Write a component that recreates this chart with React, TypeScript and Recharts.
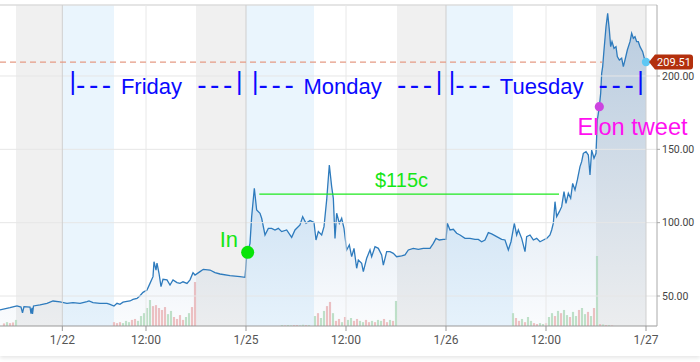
import React from 'react';
import {
  ComposedChart,
  Area,
  XAxis,
  YAxis,
  ReferenceArea,
  ReferenceLine,
  ReferenceDot,
} from 'recharts';

// hours from Monday 1/25 00:00 (weekend squeezed out, as on the source chart)
const tickTimes = [-22.04, -12, 0, 12, 24, 36, 48];
const tickLabels = ['1/22', '12:00', '1/25', '12:00', '1/26', '12:00', '1/27'];
const dayLines = [-22.04, 0, 24, 48];
const noonLines = [-12, 12, 36];
const priceTicks = [50, 100, 150, 200];

const greyBands = [[-27.6, -22.04], [-6.0, 0], [18.12, 24], [42.0, 48]];
const blueBands = [[-22.04, -15.84], [0, 8.16], [24, 32.04]];

const priceTimes = [
  -29.52, -28.32, -27.48, -27.0, -26.82, -26.64, -25.92, -25.8, -25.68, -25.62,
  -25.5, -24.72, -23.88, -23.16, -22.32, -21.48, -20.76, -19.92, -19.08, -18.84,
  -18.36, -17.52, -16.68, -16.32, -15.84, -15.48, -15.12, -14.76, -14.28, -13.92,
  -13.56, -13.08, -12.72, -12.36, -11.88, -11.52, -11.16, -11.04, -10.8, -10.68,
  -10.44, -10.2, -9.96, -9.48, -9.12, -8.76, -8.28, -7.92, -7.56, -7.08,
  -6.72, -6.36, -6.12, -5.52, -5.12, -4.32, -3.72, -3.12, -1.92, -0.72,
  -0.12, 0.08, 0.48, 0.68, 1.0, 1.28, 1.68, 1.88, 2.28, 2.68,
  3.08, 3.48, 3.88, 4.28, 4.88, 5.48, 5.88, 6.48, 6.8, 7.2,
  7.68, 8.16, 8.4, 8.68, 9.08, 9.36, 9.68, 10.0, 10.28, 10.48,
  10.68, 10.88, 11.2, 11.48, 11.76, 12.08, 12.4, 12.68, 12.96, 13.28,
  13.48, 13.88, 14.08, 14.48, 14.88, 15.08, 15.48, 15.88, 16.28, 16.48,
  16.88, 17.28, 17.68, 18.08, 18.68, 19.08, 19.48, 20.08, 20.68, 21.28,
  22.08, 22.48, 22.8, 23.2, 23.68, 24.0, 24.16, 24.48, 24.88, 25.28,
  25.68, 26.28, 26.88, 27.48, 27.88, 28.28, 28.68, 29.08, 29.48, 30.08,
  30.68, 31.08, 31.48, 31.8, 32.2, 32.48, 32.68, 33.08, 33.48, 33.68,
  34.08, 34.48, 34.88, 35.28, 35.68, 36.08, 36.48, 36.68, 36.88, 37.08,
  37.28, 37.6, 37.88, 38.16, 38.4, 38.68, 38.96, 39.2, 39.48, 39.76,
  40.08, 40.28, 40.48, 40.8, 41.08, 41.28, 41.48, 41.76, 42.0, 42.16,
  42.4, 42.56, 42.68, 42.8, 42.96, 43.2, 43.4, 43.6, 43.76, 43.92,
  44.16, 44.4, 44.56, 44.8, 45.08, 45.28, 45.48, 45.76, 46.08, 46.28,
  46.48, 46.68, 46.88, 47.08, 47.28, 47.6, 47.8, 48.0,
];

const prices = [
  40.5, 42.0, 43.2, 42.5, 38.6, 42.7, 42.5, 38.0, 42.0, 37.8,
  43.2, 43.9, 45.0, 46.6, 46.0, 45.0, 45.5, 45.0, 46.1, 46.6,
  45.5, 45.0, 45.0, 44.3, 43.2, 45.0, 44.3, 45.8, 46.3, 46.6,
  47.7, 48.3, 50.2, 52.5, 54.1, 58.6, 63.2, 73.4, 67.7, 72.5,
  65.5, 56.4, 61.4, 61.0, 57.5, 61.0, 59.1, 58.6, 59.7, 58.6,
  61.0, 65.9, 64.3, 66.6, 68.2, 67.7, 65.9, 65.0, 63.9, 63.2,
  62.7, 76.8, 85.9, 104.1, 123.5, 108.6, 106.4, 103.0, 91.6, 96.1,
  96.1, 95.0, 96.1, 93.9, 95.0, 90.0, 95.0, 98.4, 104.1, 99.6,
  101.4, 100.1, 88.2, 93.9, 91.6, 97.3, 115.5, 139.3, 124.6, 116.6,
  89.3, 106.4, 99.6, 103.0, 96.1, 81.4, 84.8, 76.8, 82.5, 68.9,
  74.5, 72.3, 66.6, 75.7, 81.4, 76.8, 83.6, 82.5, 78.0, 71.1,
  80.2, 80.2, 79.1, 76.8, 77.3, 78.0, 81.4, 82.5, 81.8, 82.5,
  82.5, 85.9, 89.3, 88.2, 88.6, 88.6, 99.6, 95.0, 95.5, 92.8,
  91.6, 89.3, 89.3, 88.6, 88.6, 87.0, 88.2, 93.2, 92.3, 90.5,
  88.6, 88.2, 81.4, 87.0, 99.6, 91.6, 95.0, 89.3, 80.2, 90.5,
  91.6, 88.2, 89.3, 87.0, 88.2, 89.3, 91.6, 95.0, 99.6, 114.3,
  104.1, 107.5, 110.9, 121.1, 113.2, 120.0, 116.6, 126.8, 122.3, 129.1,
  138.2, 141.6, 147.3, 148.4, 146.1, 132.5, 149.5, 143.9, 147.3, 170.0,
  179.1, 188.2, 201.8, 206.4, 217.7, 233.6, 242.7, 231.4, 220.0, 223.4,
  218.9, 220.0, 213.2, 210.9, 212.1, 206.4, 210.9, 217.7, 223.4, 229.1,
  225.7, 226.8, 223.4, 223.4, 220.0, 216.6, 212.1, 209.51,
];

// volume bars come in runs, one bar every 0.36h
const volStep = 0.36;
const volHalfWidth = 0.13;
const volRunStarts = [-29.4, -15.84, 4.32, 8.28, 32.04, 42.48];
const volRuns = [
  [0.9, 0.8, 1.2, 0.9, 1.1, 1.9],
  [1.2, 0.9, 1.2, 0.9, 1.6, 1.2, 1.9, 2.2, 1.6, 3.1, 4.0, 5.6, 8.1, 6.2, 6.5, 5.6, 5.0, 5.9, 3.7, 4.7, 2.8, 2.2, 3.4, 1.9, 2.8, 4.0, 5.9, 13.7],
  [0.3, 0.2, 0.3, 0.2, 0.3, 0.3, 0.2, 0.4, 0.3, 0.3],
  [3.1, 4.0, 2.5, 4.7, 6.2, 7.5, 4.0, 1.6, 2.2, 1.2, 2.8, 1.9, 2.5, 1.6, 2.2, 1.6, 1.2, 1.9, 1.2, 1.6, 1.2, 1.9, 1.6, 2.2, 1.2, 1.9, 1.6, 7.8],
  [4.0, 2.5, 1.6, 2.2, 1.2, 2.8, 1.6, 0.9, 0.6, 0.9, 0.6, 0.9, 2.8, 4.0, 3.1, 4.7, 4.0, 5.0, 3.4, 2.8, 4.4, 3.1, 5.0, 5.6, 3.7, 4.4, 3.1, 5.6, 21.8],
  [0.6, 0.5, 0.3, 0.3, 0.2],
];
const volRunDirs = [
  'ududdu',
  'ddduuudduuuuuddddduudddduudd',
  'uduudduudu',
  'uduuddudduduudduudduduuddudu',
  'udduduudduuduududuuduuduududu',
  'dudud',
];

const lastPrice = prices[prices.length - 1];

const priceRows = priceTimes.map((t, i) => ({ t, price: prices[i] }));

const volumeBars = volRuns.flatMap((run, r) =>
  run.map((v, i) => ({
    t: +(volRunStarts[r] + i * volStep).toFixed(2),
    vol: v,
    up: volRunDirs[r][i] !== 'd',
  })),
);

const annoFont = '"Liberation Sans", Arial, sans-serif';

const Bracket = (word: string) => (props: any) => (
  <text x={props.cx} y={props.cy} fill="#0a0aff" fontSize={22} fontFamily={annoFont}>
    <tspan fontSize={25} dy={-4.5}>|</tspan>
    <tspan fontSize={28} dy={4.5} letterSpacing={3.6}>---</tspan>
    <tspan> {word} </tspan>
    <tspan fontSize={28} dx={9} letterSpacing={3.6}>---</tspan>
    <tspan fontSize={25} dy={-4.5}>|</tspan>
  </text>
);

const Note = (label: string, color: string, size: number) => (props: any) => (
  <text x={props.cx} y={props.cy} fill={color} fontSize={size} fontFamily={annoFont}>
    {label}
  </text>
);

const Marker = (color: string, r: number) => (props: any) => (
  <circle cx={props.cx} cy={props.cy} r={r} fill={color} />
);

const LastPriceTag = (props: any) => {
  const { cx, cy } = props;
  return (
    <g>
      <circle cx={cx} cy={cy} r={4.2} fill="#5ec8f4" />
      <path
        d={`M${cx + 3},${cy} L${cx + 9},${cy - 7.5} H${cx + 44} a3,3 0 0 1 3,3 V${cy + 4.5} a3,3 0 0 1 -3,3 H${cx + 9} Z`}
        fill="#b3300d"
      />
      <text x={cx + 28} y={cy + 4} textAnchor="middle" fill="#fff" fontSize={11} fontFamily="Roboto, sans-serif">
        {lastPrice.toFixed(2)}
      </text>
    </g>
  );
};

export default function App() {
  return (
    <div
      style={{
        position: 'absolute',
        left: 0,
        top: 0,
        width: 700,
        height: 356,
        background: '#fff',
        boxShadow: '0 2px 4px rgba(0,0,0,0.10)',
      }}
    >
      <ComposedChart width={700} height={356} data={priceRows} margin={{ top: 5, right: 0, bottom: 0, left: 0 }}>
        <defs>
          <linearGradient id="priceFill" x1="0" y1="0" x2="0" y2="1">
            <stop offset="0%" stopColor="#5b8fc5" stopOpacity={0.62} />
            <stop offset="100%" stopColor="#5b8fc5" stopOpacity={0.05} />
          </linearGradient>
        </defs>
        <XAxis
          dataKey="t"
          type="number"
          domain={[-29.52, 49.32]}
          ticks={tickTimes}
          interval={0}
          allowDataOverflow
          tickFormatter={(v: number) => tickLabels[tickTimes.indexOf(v)] ?? ''}
          tick={{ fontSize: 12, fill: '#555', fontFamily: 'Roboto, sans-serif' }}
          tickSize={5}
          tickMargin={4}
          height={30}
          stroke="#999"
        />
        <YAxis
          orientation="right"
          domain={[29.55, 248.4]}
          ticks={priceTicks}
          allowDataOverflow
          width={43}
          tickFormatter={(v: number) => v.toFixed(2)}
          tick={{ fontSize: 10.5, fill: '#444', fontFamily: 'Roboto, sans-serif' }}
          tickSize={3}
          tickMargin={2}
          stroke="#aaa"
        />
        <YAxis yAxisId="v" hide domain={[0, 100]} allowDataOverflow />

        {greyBands.map(([a, b], i) => (
          <ReferenceArea key={`g${i}`} x1={a} x2={b} fill="#f0f0f0" fillOpacity={1} strokeOpacity={0} />
        ))}
        {blueBands.map(([a, b], i) => (
          <ReferenceArea key={`b${i}`} x1={a} x2={b} fill="#eaf5fd" fillOpacity={1} strokeOpacity={0} />
        ))}
        {priceTicks.map(p => (
          <ReferenceLine key={`h${p}`} y={p} stroke="#e6e6e6" />
        ))}
        <ReferenceLine y={248.4} stroke="#dcdcdc" strokeWidth={1.5} />
        {noonLines.map(t => (
          <ReferenceLine key={`n${t}`} x={t} stroke="#e8e8e8" />
        ))}
        {dayLines.map(t => (
          <ReferenceLine key={`d${t}`} x={t} stroke="#cfcfcf" />
        ))}

        {/* volume histogram on its own hidden axis */}
        {volumeBars.map((b, i) => (
          <ReferenceArea
            key={`v${i}`}
            yAxisId="v"
            x1={b.t - volHalfWidth}
            x2={b.t + volHalfWidth}
            y1={0}
            y2={b.vol}
            fill={b.up ? '#c2e3c8' : '#f2c2c2'}
            fillOpacity={1}
            strokeOpacity={0}
          />
        ))}

        {/* last-price guide runs behind the Tuesday spike, so it stops where the area starts */}
        <ReferenceLine
          segment={[{ x: -29.52, y: lastPrice }, { x: 42.75, y: lastPrice }]}
          stroke="#e59a84"
          strokeDasharray="6 4"
          strokeWidth={1.2}
        />

        <Area
          type="linear"
          dataKey="price"
          stroke="#2e7bbd"
          strokeWidth={1.3}
          fill="url(#priceFill)"
          dot={false}
          activeDot={false}
          isAnimationActive={false}
        />

        <ReferenceLine
          segment={[{ x: 1.6, y: 119.5 }, { x: 37.56, y: 119.5 }]}
          stroke="#1ee81e"
          strokeWidth={1.2}
        />
        <ReferenceDot x={-21.18} y={187.5} r={0} ifOverflow="visible" shape={Bracket('Friday')} />
        <ReferenceDot x={0.73} y={187.5} r={0} ifOverflow="visible" shape={Bracket('Monday')} />
        <ReferenceDot x={24.34} y={187.5} r={0} ifOverflow="visible" shape={Bracket('Tuesday')} />
        <ReferenceDot x={15.48} y={124.5} r={0} ifOverflow="visible" shape={Note('$115c', '#16e616', 20)} />
        <ReferenceDot x={-3.16} y={83.6} r={0} ifOverflow="visible" shape={Note('In', '#16e616', 22)} />
        <ReferenceDot x={39.78} y={159.8} r={0} ifOverflow="visible" shape={Note('Elon tweet', '#ff10f0', 23.6)} />
        <ReferenceDot x={0.2} y={79.8} r={6.5} ifOverflow="visible" shape={Marker('#08e408', 6.5)} />
        <ReferenceDot x={42.4} y={179.1} r={4.5} ifOverflow="visible" shape={Marker('#cc44e0', 4.6)} />
        <ReferenceDot x={48} y={lastPrice} r={4} ifOverflow="visible" shape={LastPriceTag} />
      </ComposedChart>
    </div>
  );
}
